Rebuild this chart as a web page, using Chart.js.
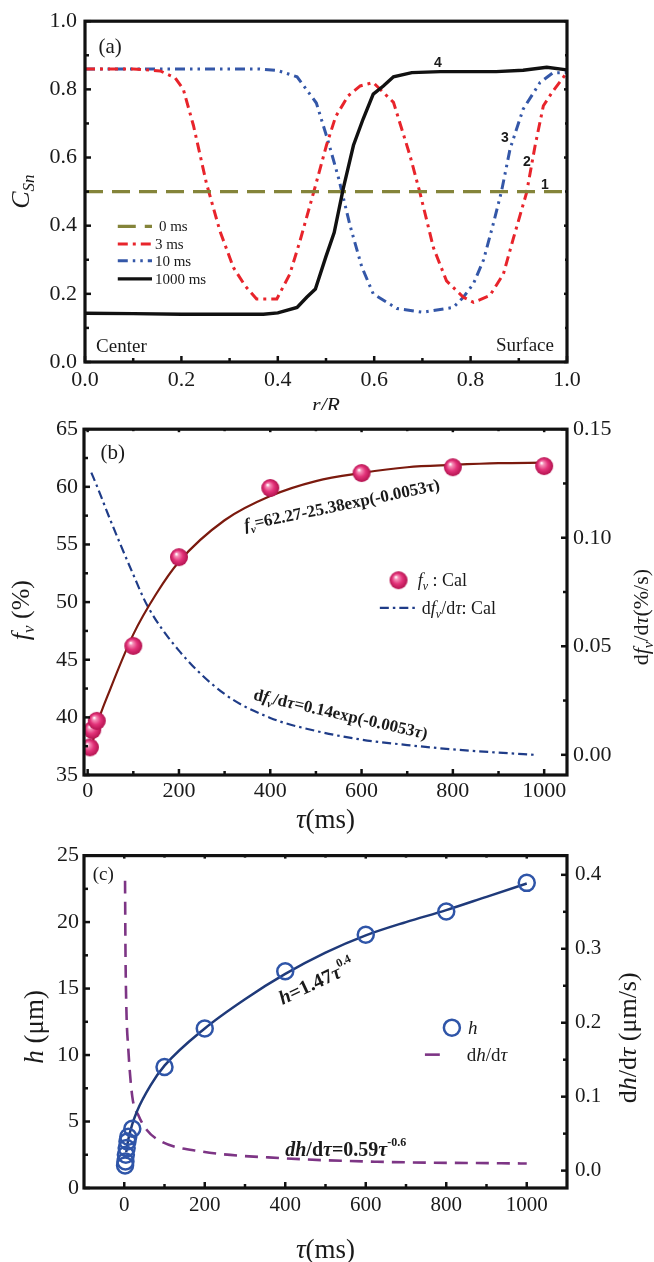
<!DOCTYPE html>
<html><head><meta charset="utf-8">
<script src="https://cdn.jsdelivr.net/npm/chart.js@4.4.0/dist/chart.umd.min.js"></script>
<style>
html,body{margin:0;padding:0;background:#fff;}
#wrap{position:relative;width:654px;height:1262px;overflow:hidden;}
canvas{position:absolute;left:0;}
</style></head><body>
<div id="wrap">
<canvas id="ca" width="654" height="410" style="top:0px"></canvas>
<canvas id="cb" width="654" height="425" style="top:410px"></canvas>
<canvas id="cc" width="654" height="427" style="top:835px"></canvas>
</div>
<script>
// ===== Panel (a): C_Sn vs r/R =====
const aSeriesNames = ['0 ms', '3 ms', '10 ms', '1000 ms'];
const a0msX = [0, 1.0];
const a0msY = [0.5, 0.5];
const a3msX = [0,0.1,0.156,0.187,0.204,0.225,0.252,0.28,0.308,0.332,0.356,0.398,0.425,0.446,0.474,0.501,0.52,0.546,0.571,0.598,0.64,0.674,0.695,0.723,0.75,0.785,0.806,0.84,0.868,0.889,0.916,0.934,0.951,0.971,1.0];
const a3msY = [0.86,0.86,0.854,0.834,0.80,0.694,0.524,0.384,0.277,0.224,0.185,0.185,0.258,0.355,0.496,0.636,0.72,0.781,0.81,0.82,0.762,0.607,0.496,0.335,0.238,0.19,0.175,0.195,0.258,0.364,0.496,0.636,0.752,0.795,0.85];
const a10msX = [0,0.2,0.36,0.4,0.44,0.48,0.505,0.526,0.55,0.574,0.598,0.647,0.70,0.764,0.785,0.806,0.827,0.847,0.864,0.882,0.909,0.944,0.97,1.0];
const a10msY = [0.86,0.86,0.86,0.855,0.837,0.76,0.645,0.54,0.40,0.28,0.20,0.157,0.146,0.16,0.19,0.23,0.30,0.405,0.50,0.626,0.742,0.82,0.848,0.85];
const a1000msX = [0,0.1,0.2,0.3,0.37,0.4,0.44,0.46,0.478,0.50,0.517,0.536,0.557,0.577,0.598,0.619,0.64,0.678,0.737,0.853,0.909,0.958,1.0];
const a1000msY = [0.143,0.142,0.14,0.14,0.14,0.144,0.16,0.19,0.214,0.31,0.38,0.51,0.636,0.713,0.786,0.81,0.837,0.849,0.852,0.852,0.856,0.865,0.857];
const aXTicks = [0,0.2,0.4,0.6,0.8,1.0];
const aXMinor = [0.1,0.3,0.5,0.7,0.9];
const aYTicks = [0,0.2,0.4,0.6,0.8,1.0];
const aYMinor = [0.1,0.3,0.5,0.7,0.9];

// ===== Panel (b): f_v vs tau =====
const bTau = [5,10,20,100,200,400,600,800,1000];
const bFv = [37.4,38.9,39.7,46.2,53.9,59.9,61.2,61.7,61.8];
const bFitTau = [10,20,50,100,150,200,300,400,500,600,700,800,900,1000];
const bFitFv = [37.7,39.3,42.5,47.2,50.7,53.5,57.1,59.2,60.5,61.2,61.7,61.9,62.05,62.1];
const bRateTau = [8,20,50,100,130,200,300,400,500,600,700,800,900,980];
const bRate = [0.130,0.124,0.108,0.083,0.069,0.048,0.028,0.017,0.011,0.007,0.0045,0.0025,0.001,0.0];
const bXTicks = [0,200,400,600,800,1000];
const bXMinor = [100,300,500,700,900];
const bYTicks = [35,40,45,50,55,60,65];
const bYMinor = [37.5,42.5,47.5,52.5,57.5,62.5];
const bY2Ticks = [0,0.05,0.10,0.15];
const bY2Minor = [0.025,0.075,0.125];

// ===== Panel (c): h vs tau =====
const cTau = [2,3,4,6,8,10,20,100,200,400,600,800,1000];
const cH = [1.7,2.0,2.5,3.0,3.5,3.85,4.45,9.1,12.0,16.3,19.05,20.8,22.95];
const cFitTau = [5,10,20,32,65,100,200,300,400,500,600,700,800,900,1000];
const cFitH = [2.7,3.65,4.8,5.8,7.7,9.2,12.0,14.2,16.1,17.7,19.0,20.0,20.9,21.9,22.9];
const cRateTau = [2,3,5,10,20,36,56,93,191,400,628,1000];
const cRate = [0.392,0.30,0.225,0.165,0.10,0.074,0.055,0.039,0.026,0.0166,0.012,0.0096];
const cXTicks = [0,200,400,600,800,1000];
const cXMinor = [100,300,500,700,900];
const cYTicks = [0,5,10,15,20,25];
const cYMinor = [2.5,7.5,12.5,17.5,22.5];
const cY2Ticks = [0,0.1,0.2,0.3,0.4];
const cY2Minor = [0.05,0.15,0.25,0.35];

// ===== helpers =====
const SERIF = '"Liberation Serif","Times New Roman",serif';
const SANS = '"Liberation Sans",Arial,sans-serif';
const F = (size, style='') => (style ? style + ' ' : '') + size + 'px ' + SERIF;
const pts = (xs, ys) => xs.map((x,i)=>({x:x, y:ys[i]}));
const TXT = '#1a1a1a';

function rich(ctx, x, y, parts, align, angle, yoff){
  ctx.save(); ctx.translate(x,y); if(angle) ctx.rotate(angle);
  ctx.textAlign='left'; ctx.textBaseline='alphabetic';
  let w=0; const ws=parts.map(p=>{ctx.font=p.f; const m=ctx.measureText(p.t).width; w+=m; return m;});
  let cx = align==='center' ? -w/2 : (align==='right' ? -w : 0);
  parts.forEach((p,i)=>{ctx.font=p.f; ctx.fillStyle=p.c||TXT; ctx.fillText(p.t, cx, (yoff||0)+(p.dy||0)); cx+=ws[i];});
  ctx.restore();
}

function framePlugin(ticks, draw){
  return { id:'frame', afterDraw(chart){
    const ctx=chart.ctx, ca=chart.chartArea, s=chart.scales;
    ctx.save(); ctx.strokeStyle='#111'; ctx.lineCap='butt'; ctx.setLineDash([]);
    ctx.lineWidth=2.5;
    ticks.forEach(t=>{
      const sc=s[t.axis];
      t.vals.forEach(v=>{
        const p=sc.getPixelForValue(v);
        ctx.beginPath();
        if(t.side==='b'){ctx.moveTo(p,ca.bottom);ctx.lineTo(p,ca.bottom-t.len);}
        else if(t.side==='t'){ctx.moveTo(p,ca.top);ctx.lineTo(p,ca.top+t.len);}
        else if(t.side==='l'){ctx.moveTo(ca.left,p);ctx.lineTo(ca.left+t.len,p);}
        else {ctx.moveTo(ca.right,p);ctx.lineTo(ca.right-t.len,p);}
        ctx.stroke();
      });
    });
    ctx.lineWidth=3.2;
    ctx.strokeRect(ca.left, ca.top, ca.right-ca.left, ca.bottom-ca.top);
    ctx.restore();
    ctx.save(); draw(chart, ctx, ca, s); ctx.restore();
  }};
}

function linScale(opt){
  return {
    type:'linear', position:opt.pos, min:opt.min, max:opt.max,
    grid:{display:false, drawTicks:false}, border:{display:false},
    ticks:{font:{family:SERIF, size:opt.fs||21}, color:TXT, padding:opt.pad,
           callback:(v)=>opt.fmt(v), maxRotation:0, autoSkip:false},
    afterBuildTicks:(sc)=>{ sc.ticks = opt.ticks.map(v=>({value:v})); },
    afterFit:(sc)=>{ if(opt.w!==undefined) sc.width=opt.w; if(opt.h!==undefined) sc.height=opt.h; }
  };
}

const base = {
  responsive:false, animation:false, devicePixelRatio:1,
  plugins:{legend:{display:false}, tooltip:{enabled:false}},
  elements:{point:{radius:0}, line:{borderCapStyle:'butt'}}
};

const OLIVE='#84843a', RED='#e8242b', BLUE='#3457a8', BLACK='#111111';
const D0=[18,9], D3=[10,5,3,5], D10=[10,5,2.5,5,2.5,5];

// ===== Chart (a) =====
new Chart(document.getElementById('ca'), {
  type:'line',
  data:{datasets:[
    {label:aSeriesNames[3], data:pts(a1000msX,a1000msY), borderColor:BLACK, borderWidth:3.4, tension:0, pointRadius:0, order:1},
    {label:aSeriesNames[0], data:pts(a0msX,a0msY), borderColor:OLIVE, borderWidth:3.2, borderDash:D0, pointRadius:0, order:2},
    {label:aSeriesNames[1], data:pts(a3msX,a3msY), borderColor:RED, borderWidth:3, borderDash:D3, tension:0, pointRadius:0, order:3},
    {label:aSeriesNames[2], data:pts(a10msX,a10msY), borderColor:BLUE, borderWidth:3, borderDash:D10, tension:0, pointRadius:0, order:4}
  ]},
  options:Object.assign({}, base, {
    layout:{padding:{top:17, right:87, left:0, bottom:0}},
    scales:{
      x: linScale({pos:'bottom', min:0, max:1, ticks:aXTicks, fmt:v=>v.toFixed(1), pad:5, h:48, fs:22}),
      y: linScale({pos:'left', min:0, max:1, ticks:aYTicks, fmt:v=>v.toFixed(1), pad:8, w:85, fs:22})
    }
  }),
  plugins:[framePlugin([
    {axis:'x', vals:aXTicks, len:6, side:'b'}, {axis:'x', vals:aXMinor, len:4, side:'b'},
    {axis:'y', vals:aYTicks, len:6, side:'l'}, {axis:'y', vals:aYMinor, len:4, side:'l'},
    {axis:'y', vals:aYTicks, len:3, side:'r'}, {axis:'y', vals:aYMinor, len:2, side:'r'}
  ], (chart, ctx, ca, s)=>{
    const X=v=>s.x.getPixelForValue(v), Y=v=>s.y.getPixelForValue(v);
    rich(ctx, X(0.052), Y(0.927), [{t:'(a)', f:F(21)}], 'center', 0, 7);
    const nf = 'bold 14px ' + SANS;
    [['4',0.732,0.88],['3',0.871,0.66],['2',0.917,0.59],['1',0.954,0.523]].forEach(n=>{
      rich(ctx, X(n[1]), Y(n[2]), [{t:n[0], f:nf}], 'center', 0, 5);
    });
    rich(ctx, X(0.023), Y(0.047), [{t:'Center', f:F(19)}], 'left', 0, 6);
    rich(ctx, X(0.973), Y(0.05), [{t:'Surface', f:F(19)}], 'right', 0, 6);
    const rows=[0.398,0.346,0.297,0.244];
    const sty=[[OLIVE,D0,3.2],[RED,D3,3],[BLUE,D10,3],[BLACK,[],3.4]];
    rows.forEach((ry,i)=>{
      ctx.save(); ctx.strokeStyle=sty[i][0]; ctx.lineWidth=sty[i][2]; ctx.setLineDash(sty[i][1]);
      ctx.beginPath(); ctx.moveTo(X(0.068), Y(ry)); ctx.lineTo(X(0.139), Y(ry)); ctx.stroke(); ctx.restore();
      rich(ctx, X(0.145) + (i===0?4:0), Y(ry), [{t:aSeriesNames[i], f:F(15)}], 'left', 0, 5);
    });
    rich(ctx, 21, (ca.top+ca.bottom)/2, [{t:'C', f:F(26,'italic')},{t:'Sn', f:F(17,'italic'), dy:5}], 'center', -Math.PI/2, 8);
    rich(ctx, (ca.left+ca.right)/2, ca.bottom+43, [{t:'r/R', f:F(22,'italic')}], 'center', 0, 7);
  })]
});

function sphere(r){
  const c=document.createElement('canvas'); c.width=c.height=2*r+2;
  const g=c.getContext('2d'); const cx=r+1;
  const grad=g.createRadialGradient(cx-r*0.3, cx-r*0.35, r*0.05, cx, cx, r);
  grad.addColorStop(0,'#ffffff'); grad.addColorStop(0.18,'#f590b8');
  grad.addColorStop(0.55,'#e3337a'); grad.addColorStop(1,'#b3124f');
  g.fillStyle=grad; g.beginPath(); g.arc(cx,cx,r,0,Math.PI*2); g.fill();
  return c;
}
const SPH = sphere(9);
const BROWN='#7b1a0e', NAVY='#1f3c88', DB=[9,4,2.5,4];

// ===== Chart (b) =====
new Chart(document.getElementById('cb'), {
  type:'line',
  data:{datasets:[
    {label:'fv: Cal', data:pts(bTau,bFv), showLine:false, pointStyle:SPH, pointRadius:9, yAxisID:'y', order:0},
    {label:'fit', data:pts(bFitTau,bFitFv), borderColor:BROWN, borderWidth:2.2, cubicInterpolationMode:'monotone', pointRadius:0, yAxisID:'y', order:1},
    {label:'dfv/dtau: Cal', data:pts(bRateTau,bRate), borderColor:NAVY, borderWidth:2.2, borderDash:DB, cubicInterpolationMode:'monotone', pointRadius:0, yAxisID:'y2', order:2}
  ]},
  options:Object.assign({}, base, {
    layout:{padding:{top:19, right:0, left:0, bottom:0}},
    scales:{
      x: linScale({pos:'bottom', min:-8, max:1050, ticks:bXTicks, fmt:v=>String(v), pad:3, h:60, fs:22}),
      y: linScale({pos:'left', min:35, max:65, ticks:bYTicks, fmt:v=>String(v), pad:6, w:84, fs:22}),
      y2: linScale({pos:'right', min:-0.0093, max:0.15, ticks:bY2Ticks, fmt:v=>v.toFixed(2), pad:6, w:87, fs:22})
    }
  }),
  plugins:[framePlugin([
    {axis:'x', vals:bXTicks, len:6, side:'b'}, {axis:'x', vals:bXMinor, len:4, side:'b'},
    {axis:'x', vals:bXTicks, len:3, side:'t'}, {axis:'x', vals:bXMinor, len:2, side:'t'},
    {axis:'y', vals:bYTicks, len:6, side:'l'}, {axis:'y', vals:bYMinor, len:4, side:'l'},
    {axis:'y2', vals:bY2Ticks, len:6, side:'r'}, {axis:'y2', vals:bY2Minor, len:4, side:'r'}
  ], (chart, ctx, ca, s)=>{
    const X=v=>s.x.getPixelForValue(v), Y=v=>s.y.getPixelForValue(v);
    rich(ctx, X(55), Y(63.0), [{t:'(b)', f:F(21)}], 'center', 0, 7);
    const bf=F(17,'bold'), bfi=F(17,'bold italic'), bsub=F(11,'bold italic');
    rich(ctx, X(557), Y(58.4), [{t:'f',f:bfi},{t:'v',f:bsub,dy:4},{t:'=62.27-25.38exp(-0.0053',f:bf},{t:'τ',f:bf},{t:')',f:bf}], 'center', -0.205, 5);
    rich(ctx, X(554), Y(40.25), [{t:'d',f:bf},{t:'f',f:bfi},{t:'v',f:bsub,dy:4},{t:'/d',f:bf},{t:'τ',f:bfi},{t:'=0.14exp(-0.0053',f:bf},{t:'τ',f:bfi},{t:')',f:bf}], 'center', 0.225, 5);
    ctx.drawImage(SPH, X(681)-10, Y(51.9)-10);
    rich(ctx, X(723), Y(51.9), [{t:'f',f:F(18,'italic')},{t:'v',f:F(12,'italic'),dy:4},{t:' : Cal',f:F(18)}], 'left', 0, 6);
    ctx.save(); ctx.strokeStyle=NAVY; ctx.lineWidth=2.2; ctx.setLineDash(DB);
    ctx.beginPath(); ctx.moveTo(X(640), Y(49.5)); ctx.lineTo(X(718), Y(49.5)); ctx.stroke(); ctx.restore();
    rich(ctx, X(732), Y(49.5), [{t:'d',f:F(18)},{t:'f',f:F(18,'italic')},{t:'v',f:F(12,'italic'),dy:4},{t:'/d',f:F(18)},{t:'τ',f:F(18,'italic')},{t:': Cal',f:F(18)}], 'left', 0, 6);
    rich(ctx, 21, (ca.top+ca.bottom)/2+8, [{t:'f',f:F(26,'italic')},{t:'v',f:F(17,'italic'),dy:5},{t:' (%)',f:F(26)}], 'center', -Math.PI/2, 8);
    rich(ctx, 641, (ca.top+ca.bottom)/2+15, [{t:'d',f:F(22)},{t:'f',f:F(22,'italic')},{t:'v',f:F(15,'italic'),dy:5},{t:'/d',f:F(22)},{t:'τ',f:F(22,'italic')},{t:'(%/s)',f:F(22)}], 'center', -Math.PI/2, 7);
    rich(ctx, (ca.left+ca.right)/2, ca.bottom+45, [{t:'τ',f:F(27,'italic')},{t:'(ms)',f:F(27)}], 'center', 0, 8);
  })]
});

// ===== Chart (c) =====
const CBLUE='#2f55a8', CNAVY='#1f3a7a', PURP='#7d3585', DC=[13,8];
new Chart(document.getElementById('cc'), {
  type:'line',
  data:{datasets:[
    {label:'h', data:pts(cTau,cH), showLine:false, pointStyle:'circle', pointRadius:8, pointBorderWidth:2.5, pointBorderColor:CBLUE, pointBackgroundColor:'rgba(0,0,0,0)', yAxisID:'y', order:0},
    {label:'fit', data:pts(cFitTau,cFitH), borderColor:CNAVY, borderWidth:2.5, cubicInterpolationMode:'monotone', pointRadius:0, yAxisID:'y', order:1},
    {label:'dh/dtau', data:pts(cRateTau,cRate), borderColor:PURP, borderWidth:2.6, borderDash:DC, cubicInterpolationMode:'monotone', pointRadius:0, yAxisID:'y2', order:2}
  ]},
  options:Object.assign({}, base, {
    layout:{padding:{top:9, right:0, left:0, bottom:0}},
    scales:{
      x: linScale({pos:'bottom', min:-100, max:1100, ticks:cXTicks, fmt:v=>String(v), pad:5, h:74, fs:21}),
      y: linScale({pos:'left', min:0, max:25, ticks:cYTicks, fmt:v=>String(v), pad:5, w:84, fs:22}),
      y2: linScale({pos:'right', min:-0.0235, max:0.426, ticks:cY2Ticks, fmt:v=>v.toFixed(1), pad:8, w:87, fs:21})
    }
  }),
  plugins:[framePlugin([
    {axis:'x', vals:cXTicks, len:6, side:'b'}, {axis:'x', vals:cXMinor, len:4, side:'b'},
    {axis:'x', vals:cXTicks, len:3, side:'t'}, {axis:'x', vals:cXMinor, len:2, side:'t'},
    {axis:'y', vals:cYTicks, len:6, side:'l'}, {axis:'y', vals:cYMinor, len:4, side:'l'},
    {axis:'y2', vals:cY2Ticks, len:6, side:'r'}, {axis:'y2', vals:cY2Minor, len:4, side:'r'}
  ], (chart, ctx, ca, s)=>{
    const X=v=>s.x.getPixelForValue(v), Y=v=>s.y.getPixelForValue(v);
    rich(ctx, X(-52), Y(23.6), [{t:'(c)', f:F(19)}], 'center', 0, 6);
    const bf=F(20,'bold'), bfi=F(20,'bold italic'), bsupr=F(12,'bold');
    rich(ctx, X(477), Y(15.55), [{t:'h',f:bfi},{t:'=1.47',f:bf},{t:'τ',f:bfi},{t:'0.4',f:bsupr,dy:-10}], 'center', -0.44, 7);
    rich(ctx, X(400), Y(2.9), [{t:'dh',f:bfi},{t:'/d',f:bf},{t:'τ',f:bfi},{t:'=0.59',f:bf},{t:'τ',f:bfi},{t:'-0.6',f:bsupr,dy:-10}], 'left', 0, 7);
    ctx.save(); ctx.strokeStyle=CBLUE; ctx.lineWidth=2.5; ctx.beginPath(); ctx.arc(X(814), Y(12.06), 8, 0, Math.PI*2); ctx.stroke();
    ctx.strokeStyle=PURP; ctx.lineWidth=2.6; ctx.beginPath(); ctx.moveTo(X(747), Y(10.03)); ctx.lineTo(X(784), Y(10.03)); ctx.stroke(); ctx.restore();
    rich(ctx, X(854), Y(12.06), [{t:'h',f:F(19,'italic')}], 'left', 0, 6);
    rich(ctx, X(851), Y(10.03), [{t:'d',f:F(19)},{t:'h',f:F(19,'italic')},{t:'/d',f:F(19)},{t:'τ',f:F(19,'italic')}], 'left', 0, 6);
    rich(ctx, 34, (ca.top+ca.bottom)/2+5, [{t:'h',f:F(27,'italic')},{t:' (μm)',f:F(27)}], 'center', -Math.PI/2, 9);
    rich(ctx, 627, (ca.top+ca.bottom)/2+16, [{t:'d',f:F(26)},{t:'h',f:F(26,'italic')},{t:'/d',f:F(26)},{t:'τ',f:F(26,'italic')},{t:' (μm/s)',f:F(26)}], 'center', -Math.PI/2, 9);
    rich(ctx, (ca.left+ca.right)/2, ca.bottom+62, [{t:'τ',f:F(27,'italic')},{t:'(ms)',f:F(27)}], 'center', 0, 8);
  })]
});
</script>
</body></html>
